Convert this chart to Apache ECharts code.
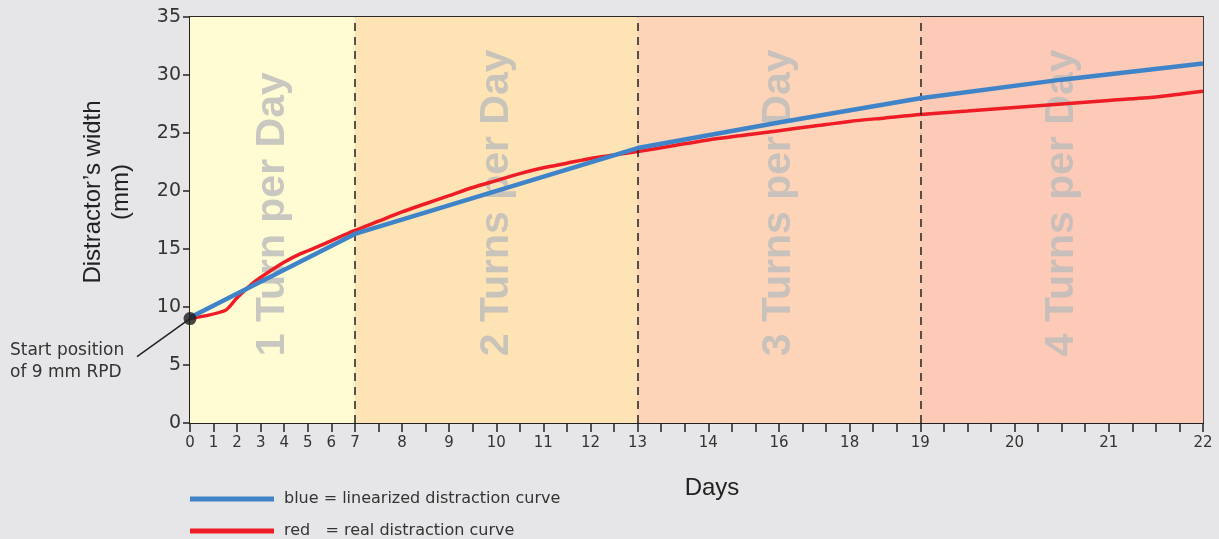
<!DOCTYPE html>
<html><head><meta charset="utf-8">
<script src="https://cdn.jsdelivr.net/npm/echarts@6/dist/echarts.min.js"></script>
<style>html,body{margin:0;padding:0;background:#e6e6e8;}#c{width:1219px;height:539px;}</style>
</head><body><div id="c"></div>
<script>
// x axis is drawn in "tick units" (one tick = one unit); each label maps a tick position to a day
var tickLabels = {0:'0',1:'1',2:'2',3:'3',4:'4',5:'5',6:'6',7:'7',9:'8',11:'9',13:'10',15:'11',17:'12',19:'13',22:'14',25:'16',28:'18',31:'19',35:'20',39:'21',43:'22'};
var bandEdges = [0, 7, 19, 31, 43];
var bandNames = ['1 Turn per Day','2 Turns per Day','3 Turns per Day','4 Turns per Day'];
var bandColors = ['#fffbd3','#fee4b5','#fdd4b7','#fccab6'];
var blueData = [[0,9.1],[7,16.3],[19,23.7],[25,25.9],[31,28.0],[37,29.6],[43,31.0]];
var redData = [[0,9.0],[1.49,9.7],[2,10.8],[2.76,12.2],[3.4,13.1],[4.03,13.9],[4.7,14.6],[5.43,15.2],[6.2,15.9],[7,16.6],
  [8,17.4],[9,18.2],[10,18.9],[11,19.6],[12,20.3],[13,20.9],[14,21.5],[15,22.0],[16,22.4],[17,22.8],[18,23.1],[19,23.4],
  [20.5,23.9],[22,24.4],[23.5,24.8],[25,25.2],[26.5,25.6],[28,26.0],[29.5,26.3],[31,26.6],[33,26.9],[35,27.2],[37,27.5],
  [39,27.8],[41,28.1],[42,28.35],[43,28.6]];
var startPoint = [[0,9]];
var blueName = 'blue = linearized distraction curve';
var redName = 'red   = real distraction curve';
var FONT = 'Liberation Sans';
var FONT2 = 'DejaVu Sans';

var areas = [], labelsData = [];
for (var i=0;i<4;i++){
  areas.push([{xAxis:bandEdges[i], itemStyle:{color:bandColors[i]}},{xAxis:bandEdges[i+1]}]);
  labelsData.push({value:[(bandEdges[i]+bandEdges[i+1])/2, 5.75], name:bandNames[i]});
}
var legendCommon = {left:190,itemWidth:84,itemHeight:5,icon:'rect',padding:0,
  textStyle:{fontFamily:FONT2,fontSize:16,color:'#333',padding:[0,0,0,5]}};
var chart = echarts.init(document.getElementById('c'));
chart.setOption({
  backgroundColor:'#e6e6e8',
  animation:false,
  textStyle:{fontFamily:FONT},
  grid:{left:190,right:16,top:17,bottom:116,show:true,borderColor:'#2a2a2a',borderWidth:1.8,backgroundColor:'transparent'},
  legend:[
    Object.assign({top:491,data:[blueName]},legendCommon),
    Object.assign({top:523,data:[redName]},legendCommon)
  ],
  xAxis:{type:'value',min:0,max:43,interval:1,
    axisLine:{lineStyle:{color:'#222',width:1.8}},
    axisTick:{length:9,lineStyle:{color:'#222',width:1.5}},
    axisLabel:{fontSize:15,color:'#333',margin:13,fontFamily:FONT2,showMinLabel:true,showMaxLabel:true,hideOverlap:false,
      formatter:function(v){return tickLabels[v]!==undefined?tickLabels[v]:'';}},
    splitLine:{show:false}},
  yAxis:{type:'value',min:0,max:35,interval:5,
    axisLine:{show:true,lineStyle:{color:'#222',width:1.8}},
    axisTick:{show:true,length:7,lineStyle:{color:'#222',width:1.5}},
    axisLabel:{fontSize:19,color:'#333',margin:9,fontFamily:FONT2},
    splitLine:{lineStyle:{color:'#333',width:1}}},
  graphic:[
    {type:'text',x:107,y:192,rotation:Math.PI/2,style:{text:'Distractor\u2019s width\n(mm)',fontSize:24,fontFamily:FONT,fill:'#222',textAlign:'center',textVerticalAlign:'middle',lineHeight:28}},
    {type:'text',x:712,y:488,style:{text:'Days',fontSize:24,fontFamily:FONT,fill:'#222',textAlign:'center',textVerticalAlign:'middle'}},
    {type:'text',x:10,y:340,style:{text:'Start position\nof 9 mm RPD',fontSize:17,fontFamily:FONT2,fill:'#333',lineHeight:22}}
  ],
  series:[
    {type:'line',name:'bands',data:[],silent:true,z:1,
      markArea:{silent:true,data:areas},
      markLine:{silent:true,symbol:'none',label:{show:false},lineStyle:{color:'#222',type:[8,6],width:1.5},
        data:[{xAxis:7},{xAxis:19},{xAxis:31}]}},
    {type:'scatter',name:'bandText',data:labelsData,symbolSize:0,z:2,silent:true,
      label:{show:true,formatter:function(p){return p.name;},rotate:90,fontSize:41,fontWeight:'bold',color:'#bcbcbc',fontFamily:FONT,position:'inside',align:'left',verticalAlign:'middle'}},
    {type:'line',name:redName,data:redData,smooth:0.25,symbol:'none',z:4,
      lineStyle:{color:'#ee1c25',width:3.5},itemStyle:{color:'#ee1c25'}},
    {type:'line',name:blueName,data:blueData,smooth:false,symbol:'none',z:5,
      lineStyle:{color:'#3f84c8',width:4.5},itemStyle:{color:'#3f84c8'}},
    {type:'scatter',name:'start',data:startPoint,symbolSize:13,z:6,clip:false,itemStyle:{color:'#1a1a1a'}}
  ]
});
var p = chart.convertToPixel({gridIndex:0}, startPoint[0]);
chart.setOption({graphic:[{},{},{},
  {type:'line',shape:{x1:p[0],y1:p[1],x2:p[0]-53,y2:p[1]+38},style:{stroke:'#222',lineWidth:1.5},z:10}]});
</script></body></html>
